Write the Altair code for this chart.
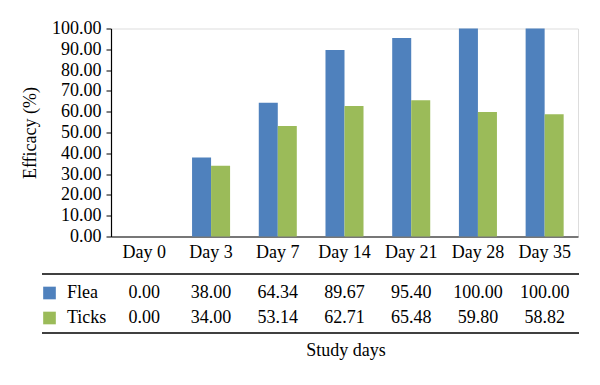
import altair as alt
import pandas as pd

days = ["Day 0", "Day 3", "Day 7", "Day 14", "Day 21", "Day 28", "Day 35"]
flea = [0.00, 38.00, 64.34, 89.67, 95.40, 100.00, 100.00]
ticks = [0.00, 34.00, 53.14, 62.71, 65.48, 59.80, 58.82]
series = ["Flea", "Ticks"]
colors = ["#4F81BD", "#9BBB59"]
y_ticks = [0, 10, 20, 30, 40, 50, 60, 70, 80, 90, 100]

rows = []
for d, f, t in zip(days, flea, ticks):
    rows.append({"Day": d, "Series": "Flea", "Value": f})
    rows.append({"Day": d, "Series": "Ticks", "Value": t})
df = pd.DataFrame(rows)

FONT = "Liberation Serif"
FS = 18

xscale = alt.Scale(domain=days, paddingInner=0.43, paddingOuter=0.215)
cscale = alt.Scale(domain=series, range=colors)

base = alt.Chart(df)

bars = base.mark_bar().encode(
    x=alt.X("Day:N", scale=xscale, sort=days,
            axis=alt.Axis(title=None, labelAngle=0, ticks=False, labelPadding=7,
                          labelFont=FONT, labelFontSize=FS, labelColor="#000",
                          domainColor="#000", domainWidth=1.2)),
    xOffset=alt.XOffset("Series:N", scale=alt.Scale(domain=series)),
    y=alt.Y("Value:Q", scale=alt.Scale(domain=[0, 100], nice=False),
            axis=alt.Axis(title="Efficacy (%)", values=y_ticks, format=".2f", grid=False,
                          tickSize=5, tickColor="#000", labelPadding=5,
                          labelFont=FONT, labelFontSize=FS, labelColor="#000",
                          titleFont=FONT, titleFontSize=FS, titleFontWeight="normal",
                          titleColor="#000", titlePadding=12,
                          domainColor="#000", domainWidth=1.2)),
    color=alt.Color("Series:N", scale=cscale, legend=None),
)

row_y = {"Flea": 264.5, "Ticks": 289.5}

layers = [bars]
for s in series:
    sub = base.transform_filter(alt.datum.Series == s)
    layers.append(
        sub.mark_text(font=FONT, fontSize=FS, color="#000", baseline="middle").encode(
            x=alt.X("Day:N", scale=xscale, sort=days),
            y=alt.value(row_y[s]),
            text=alt.Text("Value:Q", format=".2f"),
        )
    )
    lab = alt.Chart(alt.Data(values=[{"Series": s}]))
    layers.append(
        lab.mark_square(size=160, opacity=1, filled=True).encode(
            x=alt.value(-61.5), y=alt.value(row_y[s]),
            color=alt.Color("Series:N", scale=cscale, legend=None),
        )
    )
    layers.append(
        lab.mark_text(font=FONT, fontSize=FS, color="#000", align="left", baseline="middle").encode(
            x=alt.value(-44), y=alt.value(row_y[s]), text="Series:N",
        )
    )

for yy in [245.5, 304.5]:
    layers.append(
        alt.Chart(alt.Data(values=[{"a": 1}])).mark_rule(color="#000", strokeWidth=1.5).encode(
            x=alt.value(-69), x2=alt.value(468), y=alt.value(yy)
        )
    )

layers.append(
    alt.Chart(alt.Data(values=[{"t": "Study days"}])).mark_text(
        font=FONT, fontSize=FS, color="#000", baseline="middle"
    ).encode(x=alt.value(235), y=alt.value(322.5), text="t:N")
)

chart = alt.layer(*layers).properties(
    width=467, height=208,
    autosize=alt.AutoSizeParams(type="none"),
    padding={"left": 103, "top": 20.5, "right": 14, "bottom": 140},
).configure_view(stroke=None).configure(background="white")

chart.save("out.html", embed_options={"renderer": "svg", "actions": False})
